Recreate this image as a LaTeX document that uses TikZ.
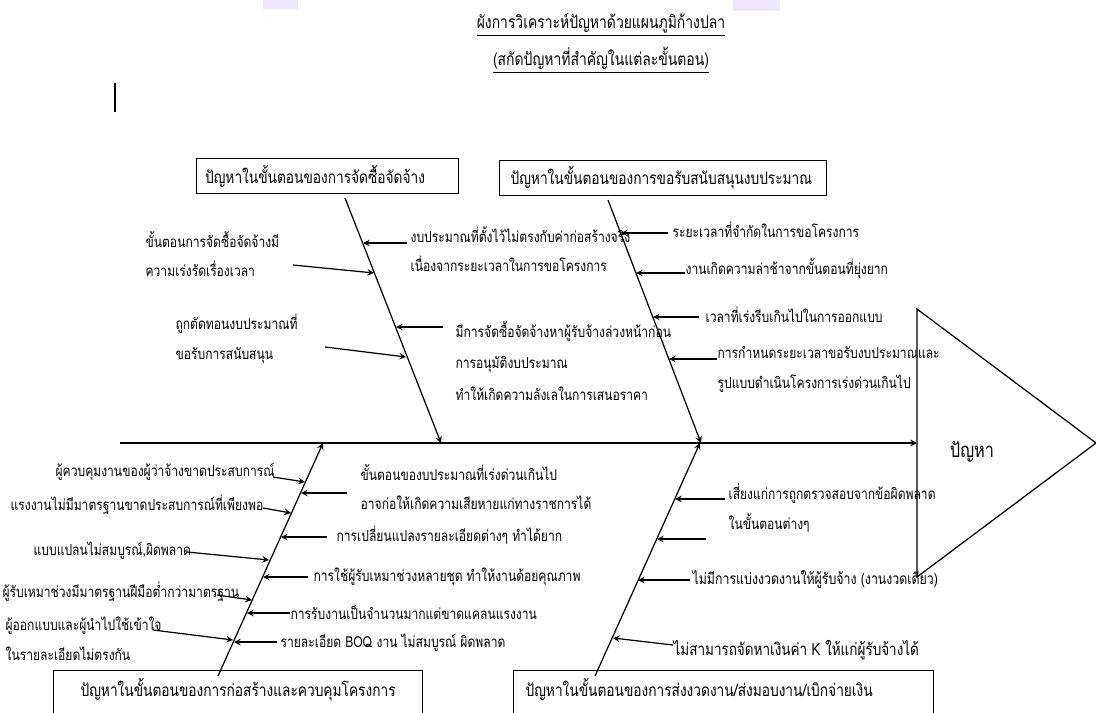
\documentclass[tikz,border=0pt]{standalone}
\usepackage{fontspec}
\setmainfont[Script=Thai, FakeStretch=0.8]{Loma}
\definecolor{lav}{RGB}{238,232,250}
\tikzset{
  cause/.style={anchor=west, inner sep=0pt, align=left, font=\fontsize{8.6}{17}\selectfont},
  probbox/.style={draw, anchor=north west, inner ysep=0pt, align=left, font=\fontsize{9.75}{11}\selectfont},
  bone/.style={->, line width=.7pt}
}
\begin{document}
\begin{tikzpicture}[>=stealth, x=0.02cm, y=-0.02cm, line width=.7pt]
\useasboundingbox (0,0) rectangle (1096,713);
\clip (0,0) rectangle (1096,713);
\fill[lav] (263,0) rectangle (298,9);
\fill[lav] (733,0) rectangle (780,11);

\node[font=\fontsize{9.9}{11}\selectfont] (title) at (601,25) {\underline{ผังการวิเคราะห์ปัญหาด้วยแผนภูมิก้างปลา}};
\node[font=\fontsize{9.9}{11}\selectfont] (subtitle) at (601,60) {\underline{(สกัดปัญหาที่สำคัญในแต่ละขั้นตอน)}};
\draw[line width=1.2pt] (115,83) -- (115,112);

% head and spine
\draw (917,309) -- (1096,443) -- (917,577) -- cycle;
\node[font=\fontsize{11.6}{13}\selectfont] (effect) at (972,452) {ปัญหา};
\coordinate (tail) at (120,443);
\coordinate (head) at (917,443);
\draw[bone] (tail) -- (head);

% category boxes
\node[probbox, inner xsep=.17cm, text width=4.9cm, minimum height=.7cm] (buybox) at (196,158) {ปัญหาในขั้นตอนของการจัดซื้อจัดจ้าง};
\node[probbox, inner xsep=.22cm, text width=6.1cm, minimum height=.7cm] (fundbox) at (499,160) {ปัญหาในขั้นตอนของการขอรับสนับสนุนงบประมาณ};
\node[probbox, inner xsep=.54cm, text width=6.3cm, inner ysep=.12cm, text height=.4cm, text depth=1cm] (bldbox) at (53,670) {ปัญหาในขั้นตอนของการก่อสร้างและควบคุมโครงการ};
\node[probbox, inner xsep=.24cm, text width=7.92cm, inner ysep=.12cm, text height=.4cm, text depth=1cm] (paybox) at (513,670) {ปัญหาในขั้นตอนของการส่งงวดงาน/ส่งมอบงาน/เบิกจ่ายเงิน};

% bones
\coordinate (buyTop) at (345,198);  \coordinate (buyEnd) at (441,443);
\coordinate (fundTop) at (608,200); \coordinate (fundEnd) at (701,443);
\coordinate (bldBot) at (218,676);  \coordinate (bldEnd) at (323,443);
\coordinate (payBot) at (595,676);  \coordinate (payEnd) at (700,443);
\draw[bone] (buyTop) -- (buyEnd);
\draw[bone] (fundTop) -- (fundEnd);
\draw[bone] (bldBot) -- (bldEnd);
\draw[bone] (payBot) -- (payEnd);

% causes
\node[cause] (buy1) at (145,254) {ขั้นตอนการจัดซื้อจัดจ้างมี\\ความเร่งรัดเรื่องเวลา};
\node[cause] (buy2) at (175,339) {ถูกตัดทอนงบประมาณที่\\ขอรับการสนับสนุน};
\node[cause] (buy3) at (410,249) {งบประมาณที่ตั้งไว้ไม่ตรงกับค่าก่อสร้างจริง\\เนื่องจากระยะเวลาในการขอโครงการ};
\node[cause] (buy4) at (455,361) {มีการจัดซื้อจัดจ้างหาผู้รับจ้างล่วงหน้าก่อน\\[1pt]การอนุมัติงบประมาณ\\[1pt]ทำให้เกิดความลังเลในการเสนอราคา};

\node[cause] (fund1) at (672,230) {ระยะเวลาที่จำกัดในการขอโครงการ};
\node[cause] (fund2) at (685,268) {งานเกิดความล่าช้าจากขั้นตอนที่ยุ่งยาก};
\node[cause] (fund3) at (705,315) {เวลาที่เร่งรีบเกินไปในการออกแบบ};
\node[cause] (fund4) at (717,369) {การกำหนดระยะเวลาขอรับงบประมาณและ\\รูปแบบดำเนินโครงการเร่งด่วนเกินไป};

\node[cause] (bld1) at (55,472) {ผู้ควบคุมงานของผู้ว่าจ้างขาดประสบการณ์};
\node[cause] (bld2) at (10,505) {แรงงานไม่มีมาตรฐานขาดประสบการณ์ที่เพียงพอ};
\node[cause] (bld3) at (33,551) {แบบแปลนไม่สมบูรณ์,ผิดพลาด};
\node[cause] (bld4) at (2,592) {ผู้รับเหมาช่วงมีมาตรฐานฝีมือต่ำกว่ามาตรฐาน};
\node[cause] (bld5) at (5,639) {ผู้ออกแบบและผู้นำไปใช้เข้าใจ\\ในรายละเอียดไม่ตรงกัน};
\node[cause] (bld6) at (360,487) {ขั้นตอนของบประมาณที่เร่งด่วนเกินไป\\อาจก่อให้เกิดความเสียหายแก่ทางราชการได้};
\node[cause] (bld7) at (336,535) {การเปลี่ยนแปลงรายละเอียดต่างๆ ทำได้ยาก};
\node[cause] (bld8) at (313,577) {การใช้ผู้รับเหมาช่วงหลายชุด ทำให้งานด้อยคุณภาพ};
\node[cause] (bld9) at (290,613) {การรับงานเป็นจำนวนมากแต่ขาดแคลนแรงงาน};
\node[cause] (bld10) at (280,643) {รายละเอียด BOQ งาน ไม่สมบูรณ์ ผิดพลาด};

\node[cause] (pay1) at (728,508) {เสี่ยงแก่การถูกตรวจสอบจากข้อผิดพลาด\\ในขั้นตอนต่างๆ};
\node[cause, font=\fontsize{8.8}{17}\selectfont] (pay2) at (692,580) {ไม่มีการแบ่งงวดงานให้ผู้รับจ้าง (งานงวดเดียว)};
\node[cause, font=\fontsize{9.6}{17}\selectfont] (pay3) at (673,650) {ไม่สามารถจัดหาเงินค่า K ให้แก่ผู้รับจ้างได้};

% cause arrows: a = tail, b = tip on the bone
\coordinate (a1) at (293,265);  \coordinate (b1) at (374,273);
\coordinate (a2) at (325,347);  \coordinate (b2) at (406,357);
\coordinate (a3) at (407,243);  \coordinate (b3) at (363,243);
\coordinate (a4) at (443,327);  \coordinate (b4) at (396,327);
\coordinate (a5) at (668,233);  \coordinate (b5) at (621,233);
\coordinate (a6) at (685,273);  \coordinate (b6) at (636,273);
\coordinate (a7) at (699,317);  \coordinate (b7) at (653,317);
\coordinate (a8) at (717,359);  \coordinate (b8) at (669,359);
\coordinate (a9) at (273,477);  \coordinate (b9) at (305,482);
\coordinate (a10) at (263,508); \coordinate (b10) at (291,513);
\coordinate (a11) at (187,552); \coordinate (b11) at (269,560);
\coordinate (a12) at (217,595); \coordinate (b12) at (252,600);
\coordinate (a13) at (153,630); \coordinate (b13) at (233,640);
\coordinate (a14) at (347,493); \coordinate (b14) at (301,493);
\coordinate (a15) at (327,537); \coordinate (b15) at (281,537);
\coordinate (a16) at (308,577); \coordinate (b16) at (263,577);
\coordinate (a17) at (290,613); \coordinate (b17) at (247,613);
\coordinate (a18) at (277,642); \coordinate (b18) at (234,642);
\coordinate (a19) at (725,499); \coordinate (b19) at (675,499);
\coordinate (a20) at (706,539); \coordinate (b20) at (657,539);
\coordinate (a21) at (690,580); \coordinate (b21) at (638,580);
\coordinate (a22) at (673,645); \coordinate (b22) at (613,638);
\foreach \i in {1,...,22}
{
    \draw[->] (a\i) -- (b\i);
}
\end{tikzpicture}
\end{document}
